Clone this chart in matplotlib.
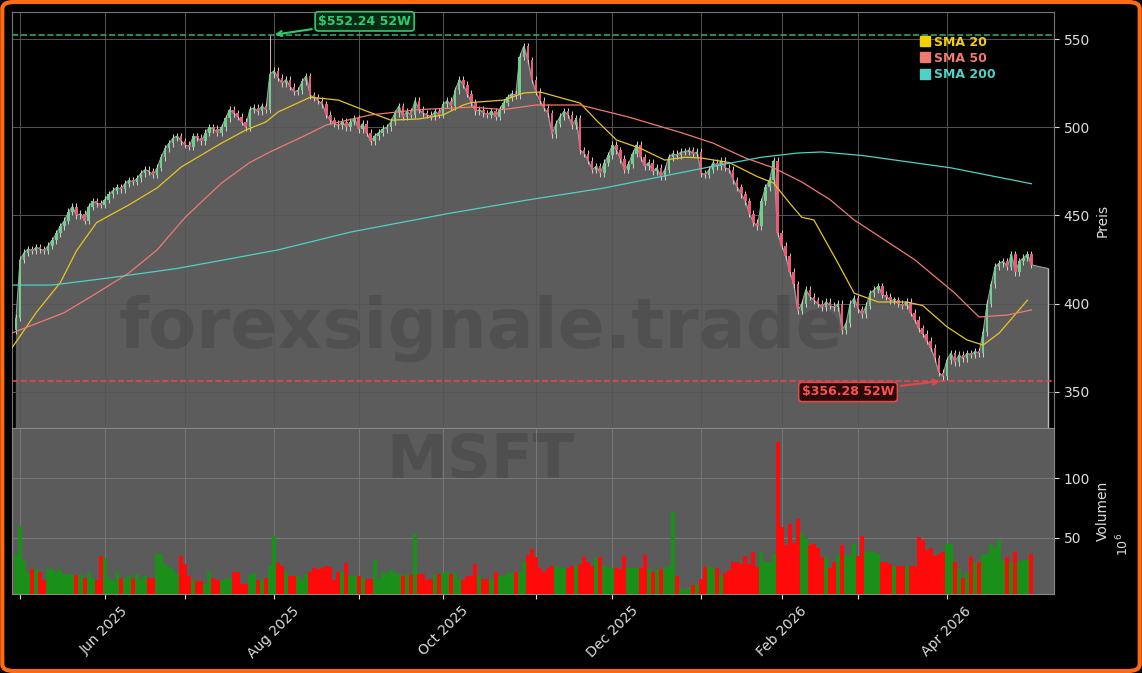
import numpy as np
import pandas as pd
import matplotlib
matplotlib.use("Agg")
import matplotlib.pyplot as plt
from matplotlib.patches import FancyBboxPatch
from matplotlib.lines import Line2D

closes = [392,425,429,431,430,432,431,430,433,436,
          440,444,447,452,455, 450,451,447, 455,458,457,456,459,
          462,464,466,465, 468,470,469,471, 474,476,475,473,477, 483,
          488,491,494,495, 492,490,489, 495,494,492, 497,500,499,497,500,
          505,510,508,506, 503,500, 510,511,509,512,510, 530,
          532,528,525,527,523, 520,521, 526,529,518, 517,515,513, 507,504,
          502,501,503,500, 503,505,499,502,497, 492, 495,497,499,500,503,
          508,512,506, 509,507,515, 510,508,507,506,509,507, 513,515,512,
          521,527,524, 519,514,509,510, 508,507,509,506,510, 514,517,519,518,
          540,546,538, 527,520,515, 511,508, 496, 502,506,509, 507,501,505,
          487, 485,481,476,478, 474, 480,484, 490, 487,482,476,479, 485,490,
          483,478,480, 475,477,472,476, 483,485,484,486, 486,487,485,486,
          474, 473,476, 480,478,481,477,476, 470,466,462,458, 451,446,444,
          458,466,470, 481, 440,433, 427, 418,411, 396, 400, 408,404,
          402,400,398,401, 399,398,400, 385, 389, 400, 403, 397,394,399,
          406,408,410, 405,404,402, 402,400,399,401, 395,391, 386,383,379,
          375,369, 361,359, 368,372,367, 371,369,372, 371,373,372, 384, 400,
          411, 421, 423,424, 421,428, 418, 424,426,428,422]

volumes = [36,60,31,21,24,24,22,15,24,24,22,24,20,20,19,19,19,17,22,17,
           15,35,33,17,14,22,17,17,18,16,20,16,18,17,17,37,37,28,26,24,
           20,35,28,18,14,14,14,12,22,17,15,15,16,17,22,22,12,12,19,21,
           15,16,17,27,52,29,27,22,18,18,18,15,20,22,25,24,25,27,26,15,
           22,22,29,18,18,18,17,16,16,32,16,22,20,24,21,20,18,20,19,53,
           20,20,15,16,19,20,21,22,20,21,16,15,18,18,28,18,16,16,16,22,
           18,18,21,21,22,22,30,36,41,34,25,22,25,27,26,26,25,25,27,27,
           28,34,30,27,33,34,27,26,25,25,24,35,25,25,25,25,36,24,22,24,
           24,25,27,72,18,8,7,9,11,12,
           16,26,26,25,25,18,21,23,30,30,28,35,28,38,26,38,30,30,37,130,
           59,44,62,46,66,54,50,44,45,42,34,34,25,30,36,44,36,36,45,35,
           52,38,39,38,37,30,30,28,27,27,27,27,27,27,51,48,40,42,35,37,
           38,45,45,30,24,17,22,34,30,30,37,37,45,42,48,31,34,30,38,30,
           32,32,37]

sma20_idx = [-1, 5, 11, 15, 20, 28, 35, 41, 51, 57, 62, 65, 73, 80, 86, 93, 100, 106, 111, 113, 121,
             126, 130, 140, 144, 149, 155, 161, 166, 170, 177, 184, 188, 192, 195, 198, 204, 208, 214,
             221, 225, 231, 236, 240, 244, 251]
sma20_val = [375, 395, 412, 430, 446, 456, 465.6, 477.5, 491, 498.4, 503, 508.6, 517, 515.4, 510, 504, 504.7,
             507, 512.6, 514, 515.4, 519.4, 520, 513.7, 504, 492.8, 488, 481.4, 483, 482.6, 480, 472, 468.4,
             457, 449, 447.5, 423, 406, 401, 401, 399, 387, 379.5, 376.6, 383.4, 402]
sma50_idx = [-1, 12, 20, 28, 35, 42, 51, 58, 63, 71, 77, 88, 100, 113, 121, 129, 140, 152, 165, 173,
             181, 188, 195, 202, 208, 223, 233, 239, 246, 252]
sma50_val = [383.4, 395, 406, 417.4, 430.5, 449, 468.4, 480, 486, 494.5, 501.3, 507, 510, 511.4, 510,
             512.6, 512.6, 505.8, 497, 491, 482.6, 477, 469, 459, 447.5, 425, 406, 392.5, 393.6, 396.5]
sma200_idx = [-1, 9, 23, 40, 52, 65, 83, 107, 127, 146, 171, 185, 194, 200, 210, 232, 252]
sma200_val = [410.6, 410.6, 414.6, 420, 425, 430.5, 440.6, 451, 458.8, 465.6, 477, 483, 485.4, 486, 484, 477, 468]

hi52, lo52 = 552.24, 356.28
holidays = ["2025-05-26", "2025-06-19", "2025-07-04", "2025-09-01", "2025-11-27", "2025-12-25",
            "2026-01-01", "2026-01-19", "2026-02-16", "2026-04-03"]

n = len(closes)
bd = pd.bdate_range("2025-04-30", "2026-06-30")
bd = bd[~bd.isin(pd.to_datetime(holidays))]
dates = bd[:n]
x = np.arange(n)
c = np.array(closes, float)
o = np.concatenate([[385.0], c[:-1]])
top = np.maximum(o, c); bot = np.minimum(o, c)
highs = top + 2.0; lows = bot - 2.0
highs[63] = hi52
lows[230] = lo52

BG = "black"
fig = plt.figure(figsize=(11.42, 6.73), dpi=100, facecolor=BG)
fig.patches.append(FancyBboxPatch((0.002, 0.003), 0.996, 0.994, boxstyle="round,pad=0,rounding_size=0.01",
                                  transform=fig.transFigure, fill=False, ec="#ff6a13", lw=3))
L, R = 12/1142, 1054/1142
ax = fig.add_axes([L, 1-428/673, R-L, 416/673], facecolor=BG)
axv = fig.add_axes([L, 1-594/673, R-L, 166/673], facecolor="#5b5b5b", sharex=ax)

xa = np.concatenate([x, [n-1+4]])
ca = np.concatenate([c, [420]])
ax.fill_between(xa, ca, 300, color="#5c5c5c", zorder=1)
ax.plot(xa, ca, color="#9a9a9a", lw=0.8, zorder=2)
ax.vlines(n+3, 300, 420, color="#bbbbbb", lw=1, zorder=2)

up = c >= o
for i in range(n):
    col = "#6fd08a" if up[i] else "#f0587a"
    ax.vlines(x[i], lows[i], highs[i], color="#cfcfcf" if i != 63 else "#d8b0b8", lw=0.7, zorder=3)
    ax.bar(x[i], max(top[i]-bot[i], 0.6), bottom=bot[i], width=0.6, color=col, lw=0, zorder=4)

ax.plot(sma20_idx, sma20_val, color="#e8c51f", lw=0.9, zorder=5)
ax.plot(sma50_idx, sma50_val, color="#f07a72", lw=0.9, zorder=5)
ax.plot(sma200_idx, sma200_val, color="#4fd1c5", lw=0.9, zorder=5)

ax.axhline(hi52, color="#2ea85a", ls="--", lw=1.2, zorder=6)
ax.axhline(lo52, color="#e04848", ls="--", lw=1.2, zorder=6)
ax.annotate(f"${hi52:.2f} 52W", xy=(63.5, hi52), xytext=(75, 560), color="#2ecc71", fontsize=9, fontweight="bold",
            ha="left", va="center", zorder=7,
            bbox=dict(boxstyle="round,pad=0.25", fc="#0b2a16", ec="#2ecc71", lw=1.2),
            arrowprops=dict(arrowstyle="->", color="#2ecc71", lw=1.5))
ax.annotate(f"${lo52:.2f} 52W", xy=(230, lo52), xytext=(195, 350), color="#ff5050", fontsize=9, fontweight="bold",
            ha="left", va="center", zorder=7,
            bbox=dict(boxstyle="round,pad=0.25", fc="#2a0b0b", ec="#e04848", lw=1.2),
            arrowprops=dict(arrowstyle="->", color="#e04848", lw=1.5))

ax.text(0.45, 0.24, "forexsignale.trade", transform=ax.transAxes, fontsize=50, fontweight="bold",
        color="#000000", alpha=0.12, ha="center", va="center", zorder=2.5)
axv.text(0.45, 0.8, "MSFT", transform=axv.transAxes, fontsize=44, fontweight="bold",
         color="#000000", alpha=0.12, ha="center", va="center", zorder=0.5)

ax.set_ylim(329.6, 565.3)
ax.set_xlim(-1, 257.6)
ax.yaxis.tick_right(); ax.yaxis.set_label_position("right")
ax.set_yticks([350, 400, 450, 500, 550])
ax.set_ylabel("Preis", color="#dddddd", fontsize=10)
ax.grid(True, color="#555555", lw=0.7)
ax.tick_params(axis="x", labelbottom=False, length=0)
ax.tick_params(axis="y", colors="#dddddd", labelsize=10)
for s in ax.spines.values(): s.set_color("#777777")

lcols = ["#f5d000", "#f07a72", "#4fd1c5"]
handles = [Line2D([], [], ls="none", marker="s", ms=7, color=cc) for cc in lcols]
leg = ax.legend(handles, ["SMA 20", "SMA 50", "SMA 200"], loc="upper right", bbox_to_anchor=(0.955, 0.97),
                frameon=False, fontsize=9, handlelength=0.8, handletextpad=0.3, labelspacing=0.25)
for t, cc in zip(leg.get_texts(), lcols):
    t.set_color(cc); t.set_fontweight("bold")

vcol = ["#1a8f1a" if u else "#ff0a0a" for u in up]
axv.bar(x, volumes, width=1.0, color=vcol, zorder=2)
axv.set_ylim(3.3, 141.7)
axv.yaxis.tick_right(); axv.yaxis.set_label_position("right")
axv.set_yticks([50, 100])
axv.set_ylabel("Volumen", color="#dddddd", fontsize=10)
axv.text(1.058, 0.3, r"$10^6$", transform=axv.transAxes, rotation=90, color="#dddddd", fontsize=9,
         va="center", ha="left")
axv.grid(True, color="#777777", lw=0.7)
axv.tick_params(colors="#dddddd", labelsize=10)
for s in axv.spines.values(): s.set_color("#888888")

mstarts = pd.date_range("2025-05-01", "2026-04-01", freq="MS")
tpos = [int(np.searchsorted(dates, d)) for d in mstarts]
tlab = [d.strftime("%b %Y") if d.month % 2 == 0 else "" for d in mstarts]
axv.set_xticks(tpos)
axv.set_xticklabels(tlab, rotation=45, ha="center", color="#dddddd")

fig.savefig("out.png", dpi=100, facecolor=BG)
